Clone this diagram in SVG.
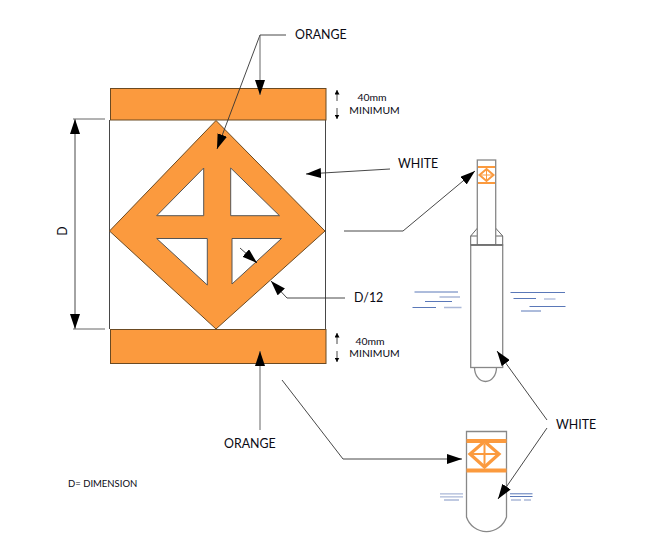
<svg xmlns="http://www.w3.org/2000/svg" width="652" height="554" viewBox="0 0 652 554">
<defs>
<style>
text{font-family:Lato,"Noto Sans","DejaVu Sans",sans-serif;fill:#0a0a14}
.l{font-size:12.400px}
.s{font-size:10.400px}
.o{fill:#fb9a3e;stroke:#6b4a22;stroke-width:1}
.h{fill:#fff;stroke:#555;stroke-width:1}
.c{fill:none;stroke:#333;stroke-width:.9}
.g{fill:none;stroke:#666;stroke-width:1}
.w{fill:#fff;stroke:#888;stroke-width:1.300}
.b1{stroke:#5a78b8;stroke-width:1;fill:none}
.b2{stroke:#aab8d8;stroke-width:1.300;fill:none}
.k{stroke:#fb9a3e;fill:none}
</style>
<marker id="a" markerUnits="userSpaceOnUse" markerWidth="16" markerHeight="10" refX="15" refY="5" orient="auto-start-reverse"><path d="M0 0L15 5L0 10Z" fill="#000"/></marker>
<marker id="t" markerUnits="userSpaceOnUse" markerWidth="5" markerHeight="5" refX="4.500" refY="2.500" orient="auto-start-reverse"><path d="M0 0L4.500 2.500L0 5Z" fill="#000"/></marker>
</defs>
<g id="frame"><path class="c" d="M109.500 120V329M325.500 120V329"/></g>
<g id="band-top"><rect class="o" x="110.500" y="88.500" width="215.500" height="31.500"/></g>
<g id="band-bottom"><rect class="o" x="110.500" y="329.500" width="215.500" height="34"/></g>
<g id="diamond">
<path class="o" d="M216 120.500L325 231L216 329L109.500 231Z"/>
<path class="h" d="M203.700 168L156.700 215.700H203.700Z"/>
<path class="h" d="M230.700 168V215.700H279.500Z"/>
<path class="h" d="M156.700 238.500H207.300V285Z"/>
<path class="h" d="M232 238.500H281.500L232 284Z"/>
</g>
<g id="bollard-top">
<path class="g" d="M470.700 245.500V236L477.500 228M502.700 245.500V236L495.500 228M470.700 236H477.500M495.500 236H502.700"/>
<rect class="w" x="477.300" y="160" width="18.400" height="85"/>
<path class="w" stroke="#555" d="M474.500 367.500a11 14 0 0 0 22 0"/>
<rect class="w" x="470.700" y="245" width="32" height="122.500"/>
<path stroke="#666" stroke-width="1.500" fill="none" d="M470.700 245H502.700"/>
<g id="mini-sign-top">
<path class="k" stroke-width="2" d="M478 167H495M478 183H495"/>
<path class="k" stroke-width="2" d="M486.500 169L493.500 175L486.500 181L479.500 175Z"/>
<path class="k" stroke-width="1" d="M486.500 170V180M481 175H492"/>
</g>
</g>
<g id="bollard-bottom">
<path class="w" d="M466.500 431.500H506.500V517A21 21 0 0 1 466.500 517Z"/>
<g id="mini-sign-bottom">
<path class="k" stroke-width="4" d="M466.500 441H506.500M466.500 470.500H506.500"/>
<path class="k" stroke-width="3.200" d="M484.500 441.500L499 454L484.500 467L470 454Z"/>
<path class="k" stroke-width="2" d="M484.500 444V465M472 454H497"/>
</g>
</g>
<g id="water">
<path class="b1" d="M414.500 292H458M425 301.500H452M412.500 307.500H436"/>
<path class="b2" d="M439.500 297H460M444 307.500H461.500"/>
<path class="b1" d="M510.500 292.500H565M529.500 306.500H565.500M521 311H541"/>
<path class="b1" d="M513.500 298.500H536"/>
<path class="b2" d="M544 299H555.500"/>
<path class="b2" d="M440 493.800H463M440 496.800H463M444 500H459"/>
<path class="b1" d="M510 493.800H532.500M510 496.500H532.500"/>
<path class="b2" d="M511 500H521M524 500H531"/>
</g>
<g id="connectors">
<path class="c" stroke="#555" d="M286 35H260L217 149" marker-end="url(#a)"/>
<path class="g" stroke-width="1.200" d="M260 35V95" marker-end="url(#a)"/>
<path class="c" d="M75 119V329" marker-start="url(#a)" marker-end="url(#a)"/>
<path class="g" d="M73 119H105M73 329H105"/>
<path class="c" d="M390 169L306 174" marker-end="url(#a)"/>
<path class="c" d="M344 231H403L475 171" marker-end="url(#a)"/>
<path class="c" d="M240 248L257 263" marker-end="url(#a)"/>
<path class="c" d="M345 298H287L271 281" marker-end="url(#a)"/>
<path class="g" stroke-width="1.200" d="M260 430V351" marker-end="url(#a)"/>
<path class="c" d="M282 380L343 459H462" marker-end="url(#a)"/>
<path class="c" d="M547 420L497 351" marker-end="url(#a)"/>
<path class="c" d="M547 428L498 499" marker-end="url(#a)"/>
<path class="c" stroke-width="1" d="M337 90V101" marker-start="url(#t)"/>
<path class="c" stroke-width="1" d="M337 108V119" marker-end="url(#t)"/>
<path class="c" stroke-width="1" d="M337 333V344" marker-start="url(#t)"/>
<path class="c" stroke-width="1" d="M337 351V362" marker-end="url(#t)"/>
</g>
<g id="labels">
<text class="l" x="295" y="39">ORANGE</text>
<text class="s" x="372" y="101" text-anchor="middle">40mm</text>
<text class="s" x="374.500" y="114" text-anchor="middle">MINIMUM</text>
<text class="l" x="398" y="167.500">WHITE</text>
<text class="l" transform="translate(67 231) rotate(-90)" text-anchor="middle">D</text>
<text class="l" x="354" y="301.500">D/12</text>
<text class="s" x="370" y="344.500" text-anchor="middle">40mm</text>
<text class="s" x="374.500" y="357" text-anchor="middle">MINIMUM</text>
<text class="l" x="224" y="448">ORANGE</text>
<text class="l" x="556" y="429">WHITE</text>
<text x="68" y="487" font-size="9.500">D= DIMENSION</text>
</g>
</svg>
